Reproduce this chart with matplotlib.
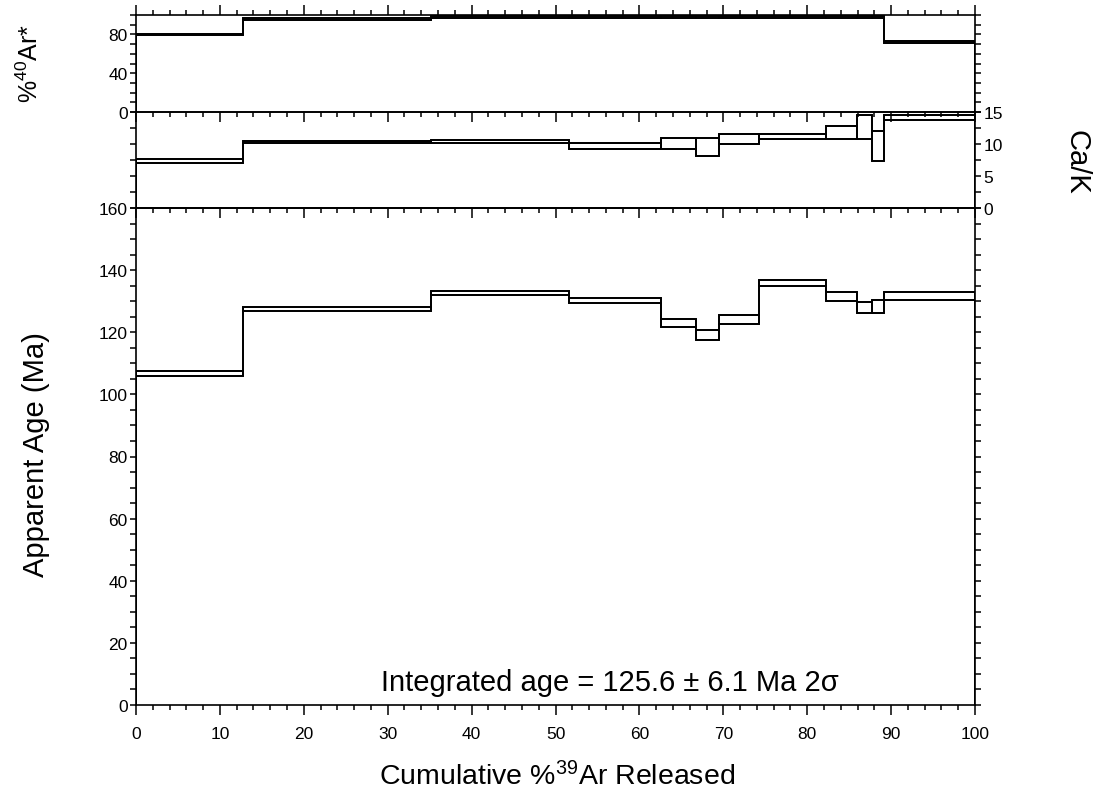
import matplotlib
matplotlib.use("Agg")
import matplotlib.pyplot as plt
from matplotlib.ticker import MultipleLocator
import numpy as np

plt.rcParams['font.family'] = ['Liberation Sans', 'DejaVu Sans']
plt.rcParams['mathtext.default'] = 'regular'

# step boundaries, cumulative %39Ar released
edges = [0, 12.7, 35.2, 51.6, 62.6, 66.8, 69.5, 74.3, 82.3, 85.9, 87.7, 89.2, 100]

# apparent age (Ma), lower / upper 2-sigma bounds per step
age_lo = [106.0, 127.0, 132.1, 129.5, 121.8, 117.5, 122.7, 134.8, 130.0, 126.2, 126.2, 130.4]
age_hi = [107.6, 128.0, 133.2, 131.0, 124.3, 120.8, 125.6, 136.8, 132.9, 129.6, 130.5, 132.9]

# Ca/K lower / upper per step
cak_lo = [7.1, 10.2, 10.1, 9.2, 9.2, 8.2, 10.0, 10.8, 10.8, 10.8, 7.3, 13.8]
cak_hi = [7.7, 10.5, 10.6, 10.2, 11.0, 11.0, 11.5, 11.5, 12.8, 14.5, 12.1, 14.5]

# % radiogenic 40Ar lower / upper per step
ar_lo = [79.3, 95.0, 96.6, 96.6, 96.6, 96.6, 96.6, 96.6, 96.6, 96.6, 96.6, 71.5]
ar_hi = [80.3, 96.8, 98.5, 98.5, 98.5, 98.5, 98.5, 98.5, 98.5, 98.5, 98.5, 73.5]

integrated = "Integrated age = 125.6 \u00b1 6.1 Ma 2\u03c3"

left = np.array(edges[:-1])
widths = np.diff(edges)

W, H = 1101, 803
fig = plt.figure(figsize=(W / 100, H / 100), dpi=100)

x0, x1 = 136, 975


def add_ax(top_px, bot_px):
    return fig.add_axes([x0 / W, 1 - bot_px / H, (x1 - x0) / W, (bot_px - top_px) / H])


ax_ar = add_ax(16, 113)
ax_ck = add_ax(113, 209)
ax_age = add_ax(209, 706)


def boxes(ax, lo, hi):
    lo = np.array(lo)
    hi = np.array(hi)
    # one box per heating step, plus the upper/lower envelopes joining them
    ax.bar(left, hi - lo, width=widths, bottom=lo, align='edge',
           fill=False, edgecolor='black', linewidth=1.3)
    ax.stairs(hi, edges, color='black', linewidth=1.3)
    ax.stairs(lo, edges, color='black', linewidth=1.3)


boxes(ax_ar, ar_lo, ar_hi)
boxes(ax_ck, cak_lo, cak_hi)
boxes(ax_age, age_lo, age_hi)

for ax in (ax_ar, ax_ck, ax_age):
    ax.set_xlim(0, 100)
    ax.xaxis.set_major_locator(MultipleLocator(10))
    ax.xaxis.set_minor_locator(MultipleLocator(2))
    for s in ax.spines.values():
        s.set_linewidth(1.2)
    ax.tick_params(which='both', width=1.1, colors='black', labelsize=12.5)
    ax.tick_params(which='major', length=7)
    ax.tick_params(which='minor', length=3.5)
    ax.set_facecolor('none')

# top panel: % 40Ar*
ax_ar.set_ylim(0, 100)
ax_ar.yaxis.set_major_locator(MultipleLocator(40))
ax_ar.yaxis.set_minor_locator(MultipleLocator(10))
ax_ar.tick_params(axis='x', which='both', direction='out', top=True, bottom=False,
                  labelbottom=False, labeltop=False)
ax_ar.tick_params(axis='y', which='both', direction='out', left=True, right=True,
                  labelleft=True, labelright=False, length=4, pad=2)

# middle panel: Ca/K
ax_ck.set_ylim(0, 15)
ax_ck.yaxis.set_major_locator(MultipleLocator(5))
ax_ck.yaxis.set_minor_locator(MultipleLocator(2.5))
ax_ck.tick_params(axis='x', which='both', direction='in', top=True, bottom=False,
                  labelbottom=False, labeltop=False)
ax_ck.tick_params(axis='y', which='both', direction='out', left=True, right=True,
                  labelleft=False, labelright=True, length=4, pad=2)

# bottom panel: apparent age
ax_age.set_ylim(0, 160)
ax_age.yaxis.set_major_locator(MultipleLocator(20))
ax_age.yaxis.set_minor_locator(MultipleLocator(5))
ax_age.tick_params(axis='x', which='both', direction='out', top=False, bottom=True)
ax_age.tick_params(axis='y', which='both', direction='out', left=True, right=True,
                   labelleft=True, labelright=False, length=4, pad=2)
ax_age.tick_params(axis='x', which='major', pad=8)

# top ticks of the age panel point inward (down from the Ca/K panel)
sec = ax_age.secondary_xaxis('top')
sec.xaxis.set_major_locator(MultipleLocator(10))
sec.xaxis.set_minor_locator(MultipleLocator(2))
sec.tick_params(which='both', direction='in', labeltop=False, width=1.1)
sec.tick_params(which='major', length=7)
sec.tick_params(which='minor', length=3.5)
sec.spines['top'].set_linewidth(1.2)

ax_age.text(0.565, 0.046, integrated, transform=ax_age.transAxes,
            ha='center', va='center', fontsize=21)

fig.text(30 / W, 1 - 64 / H, "%$^{40}$Ar*", rotation=90, ha='center', va='center', fontsize=18)
fig.text(1077 / W, 1 - 162 / H, "Ca/K", rotation=270, ha='center', va='center', fontsize=21)
fig.text(36 / W, 1 - 455 / H, "Apparent Age (Ma)", rotation=90, ha='center', va='center', fontsize=21)
fig.text(557 / W, 1 - 777 / H, "Cumulative %$^{39}$Ar Released", ha='center', va='center', fontsize=20.5)

fig.savefig("out.png", dpi=100)
